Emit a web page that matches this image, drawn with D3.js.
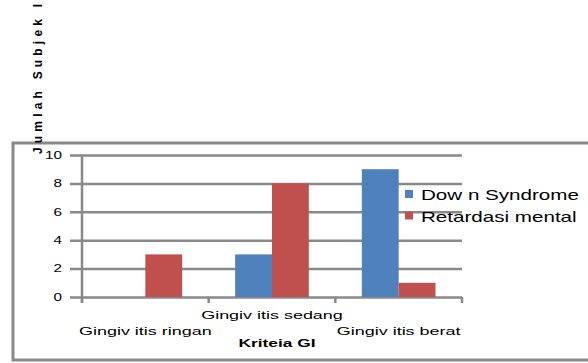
<!DOCTYPE html>
<html>
<head>
<meta charset="utf-8">
<script src="https://cdn.jsdelivr.net/npm/d3@7"></script>
<style>
  body { margin: 0; background: #fff; }
  text { font-family: "Liberation Sans", Arial, sans-serif; fill: #000; }
</style>
</head>
<body>
<svg id="chart" width="588" height="363"></svg>
<script>
// data
var categories = ["Gingiv itis ringan", "Gingiv itis sedang", "Gingiv itis berat"];
var seriesNames = ["Dow n Syndrome", "Retardasi mental"];
var downSyndrome = [0, 3, 9];
var retardasiMental = [3, 8, 1];
var yTicks = [0, 2, 4, 6, 8, 10];
var xTitle = "Kriteia GI";
var yTitle = "Jumlah Subjek I";

var colors = ["#4f81bd", "#c0504d"];
var gridColor = "#898989";

var svg = d3.select("#chart");

// stretch text sideways like the original (wide glyphs)
function stretch(sel, factor) {
  sel.each(function () {
    var w = this.getComputedTextLength();
    d3.select(this)
      .attr("textLength", w * factor)
      .attr("lengthAdjust", "spacingAndGlyphs");
  });
}

// outer frame
svg.append("rect")
  .attr("x", 13)
  .attr("y", 143)
  .attr("width", 620)
  .attr("height", 217)
  .attr("fill", "none")
  .attr("stroke", gridColor)
  .attr("stroke-width", 3);

// scales
var x0 = d3.scaleBand()
  .domain(categories)
  .range([82, 462])
  .padding(0);

var x1 = d3.scaleBand()
  .domain(seriesNames)
  .range([0, x0.bandwidth()])
  .paddingInner(0)
  .paddingOuter(0.72);

var y = d3.scaleLinear()
  .domain([0, 10])
  .range([297, 155]);

// y axis with full-width gridlines
var yAxis = d3.axisLeft(y)
  .tickValues(yTicks)
  .tickSize(392)
  .tickPadding(8);

var yG = svg.append("g")
  .attr("transform", "translate(462,0)")
  .call(yAxis);
yG.select(".domain").remove();
yG.selectAll(".tick line")
  .attr("stroke", gridColor)
  .attr("stroke-width", 2.5);
yG.selectAll(".tick text")
  .style("font-size", "10.5px")
  .style("font-family", "'Liberation Sans', Arial, sans-serif")
  .attr("fill", "#000");
stretch(yG.selectAll(".tick text"), 1.45);

// vertical axis line
svg.append("line")
  .attr("x1", 82).attr("x2", 82)
  .attr("y1", y(10)).attr("y2", y(0) + 6)
  .attr("stroke", gridColor)
  .attr("stroke-width", 2.5);

// category boundary ticks
var bounds = categories.map(function (c) { return x0(c); }).concat([x0.range()[1]]);
svg.selectAll(".xtick")
  .data(bounds)
  .enter()
  .append("line")
  .attr("class", "xtick")
  .attr("x1", function (d) { return d; })
  .attr("x2", function (d) { return d; })
  .attr("y1", y(0))
  .attr("y2", y(0) + 6)
  .attr("stroke", gridColor)
  .attr("stroke-width", 2.5);

// bars
var rows = categories.map(function (c, i) {
  return { cat: c, values: [downSyndrome[i], retardasiMental[i]] };
});

var groups = svg.selectAll(".cat")
  .data(rows)
  .enter()
  .append("g")
  .attr("class", "cat")
  .attr("transform", function (d) { return "translate(" + x0(d.cat) + ",0)"; });

groups.selectAll("rect")
  .data(function (d) {
    return d.values.map(function (v, j) { return { name: seriesNames[j], value: v, j: j }; });
  })
  .enter()
  .append("rect")
  .attr("x", function (d) { return x1(d.name); })
  .attr("y", function (d) { return y(d.value); })
  .attr("width", x1.bandwidth())
  .attr("height", function (d) { return y(0) - y(d.value); })
  .attr("fill", function (d) { return colors[d.j]; });

// category labels, staggered
var catLabels = svg.selectAll(".catlabel")
  .data(categories)
  .enter()
  .append("text")
  .attr("class", "catlabel")
  .attr("x", function (d) { return x0(d) + x0.bandwidth() / 2; })
  .attr("y", function (d, i) { return i % 2 === 0 ? 335 : 319; })
  .attr("text-anchor", "middle")
  .style("font-size", "11.5px")
  .text(function (d) { return d; });
stretch(catLabels, 1.56);

// x axis title
var xt = svg.append("text")
  .attr("x", 277)
  .attr("y", 347)
  .attr("text-anchor", "middle")
  .style("font-size", "10.5px")
  .style("font-weight", "bold")
  .text(xTitle);
stretch(xt, 1.65);

// y axis title, squeezed to stay inside the top edge
svg.append("text")
  .attr("transform", "translate(42,154) rotate(-90)")
  .attr("x", 0)
  .attr("y", 0)
  .style("font-size", "12px")
  .style("font-weight", "bold")
  .attr("textLength", 150)
  .attr("lengthAdjust", "spacing")
  .text(yTitle);

// legend
var legend = svg.selectAll(".legend")
  .data(seriesNames)
  .enter()
  .append("g")
  .attr("class", "legend")
  .attr("transform", function (d, i) { return "translate(405," + (190 + i * 21.5) + ")"; });

legend.append("rect")
  .attr("width", 8)
  .attr("height", 8)
  .attr("fill", function (d, i) { return colors[i]; });

var legText = legend.append("text")
  .attr("x", 16)
  .attr("y", 10)
  .style("font-size", "14.5px")
  .text(function (d) { return d; });
stretch(legText, 1.42);
</script>
</body>
</html>
